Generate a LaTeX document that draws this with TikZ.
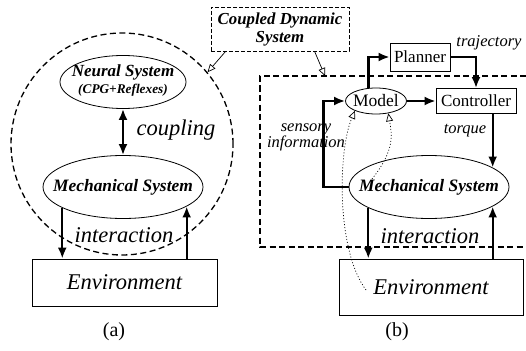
\documentclass[tikz,border=0pt]{standalone}
\usepackage{fontspec}
\setmainfont{Liberation Serif}
\usetikzlibrary{arrows.meta,shapes.geometric,calc}
\newcommand{\myfs}[1]{\fontsize{#1}{#1}\selectfont}
\begin{document}
\begin{tikzpicture}[x=1pt,y=-1pt,
 box/.style={draw,line width=0.8pt,inner sep=0pt},
 ell/.style={ellipse,draw,line width=0.8pt,inner sep=0pt},
 thk/.style={line width=2.3pt,-{Latex[length=11pt,width=9pt]}},
 thkb/.style={line width=2.3pt,{Latex[length=11pt,width=9pt]}-{Latex[length=11pt,width=9pt]}},
 hol/.style={line width=0.7pt,-{Triangle[open,length=8pt,width=7pt]}},
 dsh/.style={dash pattern=on 6pt off 3.5pt,line width=1.3pt},
 dotc/.style={line width=0.7pt,dash pattern=on 1pt off 2pt,-{Triangle[open,length=8pt,width=7pt]}},
]
\useasboundingbox (0,0) rectangle (526,350);

% ---------- (a)
\node[draw, circle, dsh, minimum size=222pt, inner sep=0pt] (ca) at (122,144) {};
\node[ell, minimum width=126pt, minimum height=53pt] (ns) at (123,82) {};
\node[font=\bfseries\itshape\myfs{17}, inner sep=0pt, anchor=base] (nst) at (123,77) {Neural System};
\node[font=\bfseries\itshape\myfs{13.3}, inner sep=0pt, anchor=base] (nsc) at (123,93) {(CPG+Reflexes)};
\node[ell, minimum width=160pt, minimum height=63pt,
  label={center:{\bfseries\itshape\myfs{17.4}Mechanical System}}] (msa) at (123,187) {};
\node[box, minimum width=185pt, minimum height=47pt, font=\itshape\myfs{22.5}] (ea) at (124.5,282.5) {Environment};

\draw[thkb] (ns.south) -- (msa.north);
\node[font=\itshape\myfs{22.5}] (cpl) at (176,130) {coupling};
\draw[thk] (msa.199) -- (msa.199 |- ea.north);
\draw[thk] (msa.-17 |- ea.north) -- (msa.-17);
\node[font=\itshape\myfs{22.5}] (ia) at (124,235) {interaction};
\node[font=\myfs{20}] (la) at (114,332) {(a)};

% ---------- coupled dynamic system
\node[box, dash pattern=on 4pt off 2pt, minimum width=138pt, minimum height=44pt, align=center,
  font=\bfseries\itshape\fontsize{16.8}{18}\selectfont] (cds) at (280,29) {Coupled Dynamic\\System};
\coordinate (rt) at (325,76);
\draw[hol] ($(cds.south west)+(15,0)$) -- (ca.40);
\draw[hol] ($(cds.south west)+(104,0)$) -- (rt);

% ---------- (b)
\coordinate (r1) at (526,76);
\coordinate (r2) at (260,76);
\coordinate (r3) at (260,247);
\coordinate (r4) at (526,247);
\draw[dsh] (r1) -- (r2) -- (r3) -- (r4);

\node[box, minimum width=60pt, minimum height=28pt, font=\myfs{17}] (pl) at (420,57) {Planner};
\node[box, minimum width=80pt, minimum height=25pt, font=\myfs{17}] (ct) at (476,101) {Controller};
\node[ell, minimum width=61pt, minimum height=26pt,
  label={center:{\myfs{17.5}Model}}] (md) at (376,101) {};
\node[ell, minimum width=160pt, minimum height=63pt,
  label={center:{\bfseries\itshape\myfs{17.4}Mechanical System}}] (msb) at (429,187) {};
\node[box, minimum width=184pt, minimum height=56pt, font=\itshape\myfs{22.5}] (eb) at (431,287) {Environment};

\draw[thk] (md.east) -- (ct.west);
\draw[thk] (md.120) |- (pl.west);
\draw[thk] (pl.east) -| (ct.north);
\draw[thk] (msb.17 |- ct.south) -- (msb.17);
\draw[thk] (msb.west) -- ++(-25,0) |- (md.west);
\draw[thk] (msb.199) -- (msb.199 |- eb.north);
\draw[thk] (msb.-17 |- eb.north) -- (msb.-17);

\node[font=\itshape\myfs{16.5}] (tr) at (489,43) {trajectory};
\node[font=\itshape\myfs{16.5}] (tq) at (465,131) {torque};
\node[font=\itshape\fontsize{16.5}{16}\selectfont, align=center] (si) at (306,137) {sensory\\information};
\node[font=\itshape\myfs{22.5}] (ib) at (430,236) {interaction};
\node[font=\myfs{20}] (lb) at (397,332) {(b)};

\draw[dotc] ($(eb.center)+(-65,3)$) .. controls (336,250) and (338,150) .. (md.205);
\draw[dotc] ($(msb.center)+(-57,-8)$) .. controls (395,150) and (392,135) .. (md.315);
\end{tikzpicture}
\end{document}
